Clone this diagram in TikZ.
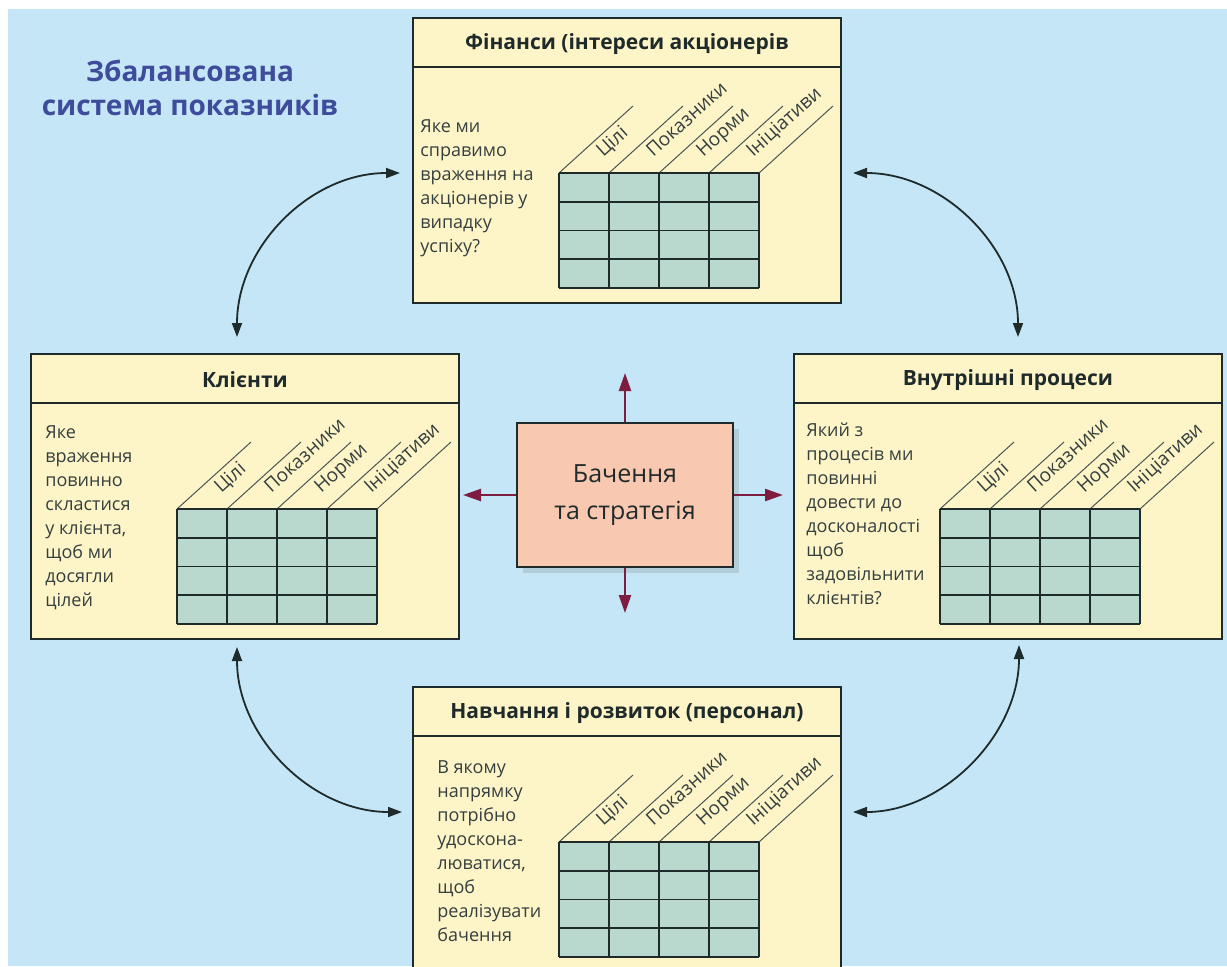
\documentclass[tikz,border=0pt]{standalone}
\usepackage{fontspec}
\setmainfont{Open Sans}
\usetikzlibrary{calc,arrows.meta,shadows}

\definecolor{fon}{HTML}{C4E6F6}
\definecolor{panelc}{HTML}{FDF4C8}
\definecolor{cellc}{HTML}{BAD9CE}
\definecolor{visc}{HTML}{F9C8B0}
\definecolor{redc}{HTML}{7D1D3F}
\definecolor{titlec}{HTML}{3E4C9B}
\definecolor{linec}{HTML}{1F2A2A}

% panel: name, left, top, title, question, text dx, text dy
\newcommand{\bscpanel}[7]{%
	\node[panel] (#1) at (#2,#3) {};
	\draw[gridline] ([yshift=-25pt]#1.north west) -- ([yshift=-25pt]#1.north east);
	\node[paneltitle] (#1-title) at ([yshift=-13.5pt]#1.north) {#4};
	\node[paneltext] (#1-text) at ($(#1.north west)+(#6,#7)$) {#5};
	\begin{scope}[shift={($(#1.north west)+(147,156)$)}]
		\fill[cell] (0,0) rectangle (200,115);
		\foreach \i in {0,...,4} {
			\draw[gridline] (50*\i,0) -- (50*\i,115);
			\draw[slantline] (50*\i,0) -- ++(74,-67);
		}
		\foreach \j in {0,...,4}
			\draw[gridline] (0,28.75*\j) -- (200,28.75*\j);
		\foreach \lab [count=\k] in {Цілі,Показники,Норми,Ініціативи}
			\node[collabel] (#1-c\k) at (50*\k-6,-15) {\lab};
	\end{scope}
}

\begin{document}
\begin{tikzpicture}[x=0.5pt, y=-0.5pt,
	panel/.style={draw=linec, line width=0.9pt, fill=panelc, anchor=north west, minimum width=214pt, minimum height=142.5pt, inner sep=0pt},
	paneltitle/.style={font=\bfseries\fontsize{10.5}{12}\selectfont, text=linec, inner sep=0pt},
	paneltext/.style={anchor=north west, align=left, font=\fontsize{9}{12}\selectfont, text=linec!90, inner sep=0pt},
	collabel/.style={anchor=base west, rotate=42, font=\fontsize{9.5}{11}\selectfont, text=linec!90, inner sep=0pt},
	cell/.style={fill=cellc},
	gridline/.style={draw=linec, line width=0.8pt},
	slantline/.style={draw=linec!80, line width=0.5pt},
	vision/.style={draw=linec, line width=0.8pt, fill=visc, minimum width=108pt, minimum height=72pt, align=center, font=\fontsize{12.5}{18.5}\selectfont, text=linec, drop shadow={shadow xshift=3pt, shadow yshift=-3pt, opacity=0.25}},
	redarrow/.style={draw=redc, line width=1.2pt, -{Triangle[length=9pt,width=6pt]}},
	bothway/.style={draw=linec, line width=0.9pt, {Triangle[length=7pt,width=5pt]}-{Triangle[length=7pt,width=5pt]}},
	headline/.style={font=\bfseries\fontsize{14}{17}\selectfont, text=titlec, align=center}]

	\useasboundingbox (0,0) rectangle (1227,966);
	\clip (0,0) rectangle (1227,966);
	\fill[white] (0,0) rectangle (1227,966);
	\fill[fon] (8,9) rectangle (1227,966);

	\node[headline] (zag) at (190,88) {Збалансована\\система показників};

	\bscpanel{fin}{412}{17}{Фінанси (інтереси акціонерів}{Яке ми\\справимо\\враження на\\акціонерів у\\випадку\\успіху?}{8}{102}
	\bscpanel{kli}{30}{353}{Клієнти}{Яке\\враження\\повинно\\скластися\\у клієнта,\\щоб ми\\досягли\\цілей}{15}{72}
	\bscpanel{vnu}{793}{353}{Внутрішні процеси}{Який з\\процесів ми\\повинні\\довести до\\досконалості\\щоб\\задовільнити\\клієнтів?}{13}{69}
	\bscpanel{nav}{412}{686}{Навчання і розвиток (персонал)}{В якому\\напрямку\\потрібно\\удоскона-\\люватися,\\щоб\\реалізувати\\бачення}{25}{74}

	\node[vision] (vis) at (625,495) {Бачення\\та стратегія};

	\coordinate (vup) at (625,373);
	\coordinate (vdown) at (625,613);
	\coordinate (vleft) at (463,495);
	\coordinate (vright) at (783,495);
	\path (vis) edge[redarrow] (vup);
	\path (vis) edge[redarrow] (vdown);
	\path (vis) edge[redarrow] (vleft);
	\path (vis) edge[redarrow] (vright);

	\coordinate (t1) at (400,173);
	\coordinate (t2) at (237,337);
	\coordinate (t3) at (853,173);
	\coordinate (t4) at (1018,337);
	\coordinate (t5) at (237,647);
	\coordinate (t6) at (402,812);
	\coordinate (t7) at (1019,645);
	\coordinate (t8) at (853,812);
	\draw[bothway] (t1) .. controls +(-90,0) and +(0,-90) .. (t2);
	\draw[bothway] (t3) .. controls +(90,0) and +(0,-90) .. (t4);
	\draw[bothway] (t5) .. controls +(0,90) and +(-90,0) .. (t6);
	\draw[bothway] (t7) .. controls +(0,90) and +(90,0) .. (t8);
\end{tikzpicture}
\end{document}
